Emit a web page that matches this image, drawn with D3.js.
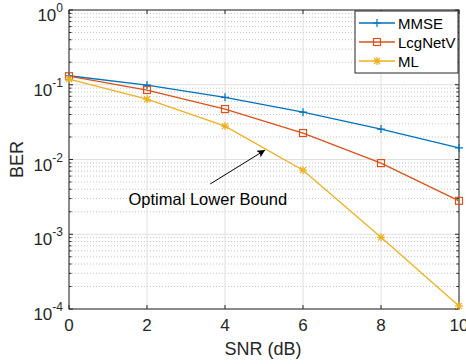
<!DOCTYPE html>
<html>
<head>
<meta charset="utf-8">
<script src="https://cdn.jsdelivr.net/npm/d3@7"></script>
<style>
  body { margin: 0; background: #fff; }
  svg { display: block; font-family: "Liberation Sans", Arial, sans-serif; }
</style>
</head>
<body>
<svg id="chart"></svg>
<script>
// data
const snr = [0, 2, 4, 6, 8, 10];
const mmse = [0.132, 0.099, 0.0678, 0.043, 0.0255, 0.0143];
const lcgnetv = [0.13, 0.085, 0.0473, 0.0226, 0.00895, 0.0028];
const ml = [0.119, 0.064, 0.028, 0.0072, 0.00091, 0.00011];
const seriesNames = ['MMSE', 'LcgNetV', 'ML'];
const xTicks = [0, 2, 4, 6, 8, 10];
const yDecades = [0, -1, -2, -3, -4];
// annotation: arrow from tail to head, text position (data units)
const annoTail = [3.62, 0.0047];
const annoHead = [5.03, 0.0134];
const annoText = [3.56, 0.00245];
const annoLabel = 'Optimal Lower Bound';

const W = 466, H = 364;
const margin = { top: 10, right: 7, bottom: 55, left: 69 };
const width = W - margin.left - margin.right;
const height = H - margin.top - margin.bottom;

const colors = { MMSE: '#0072BD', LcgNetV: '#D95319', ML: '#EDB120' };
const axisColor = '#262626';

const svg = d3.select('#chart').attr('width', W).attr('height', H);
const g = svg.append('g').attr('transform', `translate(${margin.left},${margin.top})`);

const x = d3.scaleLinear().domain([0, 10]).range([0, width]);
const y = d3.scaleLog().domain([1e-4, 1]).range([height, 0]);

// minor y values (2..9 per decade)
const minorY = [];
for (let e = -4; e < 0; e++) {
  for (let m = 2; m <= 9; m++) minorY.push(m * Math.pow(10, e));
}

// minor grid (dotted)
g.append('g').selectAll('line').data(minorY).join('line')
  .attr('x1', 0).attr('x2', width)
  .attr('y1', d => y(d)).attr('y2', d => y(d))
  .attr('stroke', '#c4c4c4').attr('stroke-width', 1)
  .attr('stroke-dasharray', '1,2');

// major grid
g.append('g').selectAll('line').data(yDecades).join('line')
  .attr('x1', 0).attr('x2', width)
  .attr('y1', d => y(Math.pow(10, d))).attr('y2', d => y(Math.pow(10, d)))
  .attr('stroke', '#e0e0e0').attr('stroke-width', 1);
g.append('g').selectAll('line').data(xTicks).join('line')
  .attr('x1', d => x(d)).attr('x2', d => x(d))
  .attr('y1', 0).attr('y2', height)
  .attr('stroke', '#e0e0e0').attr('stroke-width', 1);

// ticks (inward) on all four sides
const tk = g.append('g').attr('stroke', axisColor).attr('stroke-width', 1);
xTicks.forEach(t => {
  tk.append('line').attr('x1', x(t)).attr('x2', x(t)).attr('y1', height).attr('y2', height - 4);
  tk.append('line').attr('x1', x(t)).attr('x2', x(t)).attr('y1', 0).attr('y2', 4);
});
yDecades.forEach(e => {
  const v = y(Math.pow(10, e));
  tk.append('line').attr('x1', 0).attr('x2', 4).attr('y1', v).attr('y2', v);
  tk.append('line').attr('x1', width).attr('x2', width - 4).attr('y1', v).attr('y2', v);
});
minorY.forEach(m => {
  const v = y(m);
  tk.append('line').attr('x1', 0).attr('x2', 2.5).attr('y1', v).attr('y2', v);
  tk.append('line').attr('x1', width).attr('x2', width - 2.5).attr('y1', v).attr('y2', v);
});

// box
g.append('rect').attr('width', width).attr('height', height)
  .attr('fill', 'none').attr('stroke', axisColor).attr('stroke-width', 1);

// tick labels
g.append('g').selectAll('text').data(xTicks).join('text')
  .attr('x', d => x(d)).attr('y', height + 22)
  .attr('text-anchor', 'middle').attr('font-size', 17).attr('fill', axisColor)
  .text(d => d);

const yl = g.append('g').selectAll('text').data(yDecades).join('text')
  .attr('x', -6).attr('y', d => y(Math.pow(10, d)) + 11)
  .attr('text-anchor', 'end').attr('font-size', 17).attr('fill', axisColor);
yl.append('tspan').text('10');
yl.append('tspan').attr('dy', -9).attr('font-size', 12).text(d => d);

// axis labels
g.append('text').attr('x', width / 2 - 1).attr('y', height + 46)
  .attr('text-anchor', 'middle').attr('font-size', 18).attr('fill', axisColor)
  .text('SNR (dB)');
g.append('text')
  .attr('transform', `translate(${-margin.left + 23},${height / 2}) rotate(-90)`)
  .attr('text-anchor', 'middle').attr('font-size', 18).attr('fill', axisColor)
  .text('BER');

// series
const series = [
  { name: 'MMSE', values: mmse, marker: 'plus' },
  { name: 'LcgNetV', values: lcgnetv, marker: 'square' },
  { name: 'ML', values: ml, marker: 'star' }
];

const line = d3.line().x((d, i) => x(snr[i])).y(d => y(d));

function drawMarker(sel, type, color) {
  if (type === 'plus') {
    sel.append('path').attr('d', 'M-4,0H4M0,-4V4')
      .attr('stroke', color).attr('stroke-width', 1.2).attr('fill', 'none');
  } else if (type === 'square') {
    sel.append('rect').attr('x', -3.5).attr('y', -3.5).attr('width', 7).attr('height', 7)
      .attr('stroke', color).attr('stroke-width', 1.2).attr('fill', 'none');
  } else {
    sel.append('path').attr('d', 'M-4,0H4M0,-4V4M-3,-3L3,3M-3,3L3,-3')
      .attr('stroke', color).attr('stroke-width', 1.2).attr('fill', 'none');
  }
}

series.forEach(s => {
  const c = colors[s.name];
  g.append('path').datum(s.values).attr('d', line)
    .attr('fill', 'none').attr('stroke', c).attr('stroke-width', 1.3);
  g.append('g').selectAll('g').data(s.values).join('g')
    .attr('transform', (d, i) => `translate(${x(snr[i])},${y(d)})`)
    .each(function () { drawMarker(d3.select(this), s.marker, c); });
});

// annotation
svg.append('defs').append('marker')
  .attr('id', 'arrow').attr('viewBox', '0 0 10 10')
  .attr('refX', 10).attr('refY', 5)
  .attr('markerWidth', 11).attr('markerHeight', 8)
  .attr('markerUnits', 'userSpaceOnUse')
  .attr('orient', 'auto')
  .append('path').attr('d', 'M0,0L10,5L0,10L2.5,5Z').attr('fill', '#000');
g.append('line')
  .attr('x1', x(annoTail[0])).attr('y1', y(annoTail[1]))
  .attr('x2', x(annoHead[0])).attr('y2', y(annoHead[1]))
  .attr('stroke', '#000').attr('stroke-width', 1)
  .attr('marker-end', 'url(#arrow)');
g.append('text').attr('x', x(annoText[0])).attr('y', y(annoText[1]))
  .attr('text-anchor', 'middle').attr('font-size', 16.5).attr('fill', '#000')
  .text(annoLabel);

// legend
const lg = g.append('g').attr('transform', `translate(${286},${1})`);
lg.append('rect').attr('width', 103).attr('height', 62)
  .attr('fill', '#fff').attr('stroke', axisColor).attr('stroke-width', 1);
series.forEach((s, i) => {
  const c = colors[s.name];
  const row = lg.append('g').attr('transform', `translate(0,${12 + i * 19})`);
  row.append('line').attr('x1', 4).attr('x2', 40).attr('y1', 0).attr('y2', 0)
    .attr('stroke', c).attr('stroke-width', 1.3);
  drawMarker(row.append('g').attr('transform', 'translate(22,0)'), s.marker, c);
  row.append('text').attr('x', 43).attr('y', 5.5)
    .attr('font-size', 15).attr('fill', '#000').text(s.name);
});
</script>
</body>
</html>
